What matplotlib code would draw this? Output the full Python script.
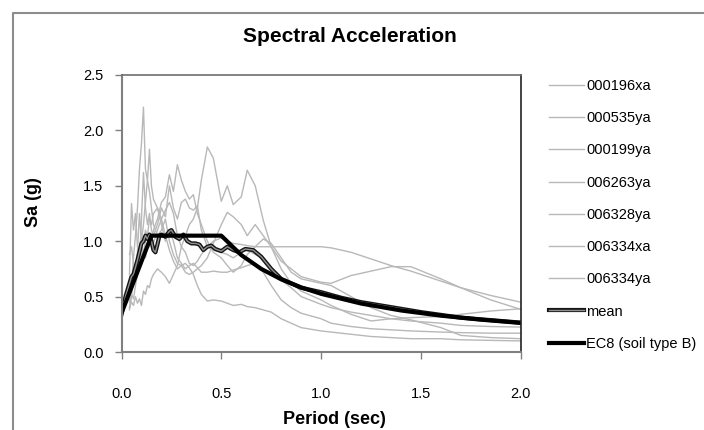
import matplotlib
matplotlib.use("Agg")
import matplotlib.pyplot as plt
import matplotlib.patheffects as pe
from matplotlib.lines import Line2D

plt.rcParams['font.family'] = ['Liberation Sans', 'DejaVu Sans']

# ---------------- data ----------------
period = [0.04, 0.05, 0.06, 0.07, 0.08, 0.09, 0.10, 0.11, 0.12, 0.13, 0.14, 0.15,
          0.16, 0.18, 0.20, 0.22, 0.24, 0.26, 0.28, 0.30, 0.32, 0.34, 0.36, 0.38,
          0.40, 0.43, 0.46, 0.50, 0.53, 0.56, 0.60, 0.63, 0.67, 0.71, 0.75, 0.80,
          0.85, 0.90, 1.00, 1.05, 1.15, 1.25, 1.35, 1.45, 1.60, 1.70, 1.85, 2.00]

rec_000196xa = [0.40, 0.45, 0.42, 0.50, 0.44, 0.48, 0.42, 0.55, 0.52, 0.60, 0.58, 0.66,
                0.70, 0.75, 0.72, 0.68, 0.62, 0.70, 0.78, 0.95, 1.05, 1.15, 1.20, 1.30,
                1.55, 1.85, 1.75, 1.36, 1.50, 1.33, 1.40, 1.64, 1.50, 1.19, 0.95, 0.75,
                0.62, 0.55, 0.47, 0.42, 0.34, 0.28, 0.30, 0.31, 0.32, 0.34, 0.37, 0.39]
rec_000535ya = [0.45, 0.60, 0.85, 1.05, 1.30, 1.65, 1.88, 2.21, 1.65, 1.55, 1.45, 1.30,
                1.15, 1.05, 1.10, 1.20, 1.00, 0.88, 0.80, 0.78, 0.80, 0.76, 0.70, 0.60,
                0.52, 0.46, 0.47, 0.46, 0.44, 0.42, 0.43, 0.41, 0.40, 0.38, 0.36, 0.30,
                0.26, 0.22, 0.19, 0.18, 0.16, 0.14, 0.13, 0.12, 0.12, 0.11, 0.105, 0.10]
rec_000199ya = [0.38, 0.50, 0.65, 0.72, 0.90, 1.25, 1.00, 1.15, 1.35, 1.55, 1.83, 1.50,
                1.38, 1.30, 1.15, 1.00, 1.10, 1.00, 0.85, 0.80, 0.75, 0.78, 0.80, 0.76,
                0.72, 0.72, 0.73, 0.72, 0.72, 0.74, 0.76, 0.78, 0.80, 0.72, 0.60, 0.47,
                0.40, 0.35, 0.30, 0.26, 0.23, 0.21, 0.20, 0.19, 0.18, 0.175, 0.17, 0.17]
rec_006263ya = [0.88, 0.95, 0.80, 0.70, 0.75, 0.85, 0.95, 0.90, 1.00, 1.05, 0.95, 1.00,
                1.10, 1.20, 1.35, 1.40, 1.60, 1.45, 1.69, 1.55, 1.45, 1.38, 1.42, 1.25,
                1.15, 1.00, 0.90, 0.85, 0.78, 0.72, 0.78, 0.88, 0.95, 1.02, 0.98, 0.85,
                0.72, 0.66, 0.62, 0.60, 0.50, 0.40, 0.33, 0.29, 0.22, 0.15, 0.13, 0.12]
rec_006328ya = [0.55, 0.65, 0.60, 0.78, 0.85, 0.95, 1.05, 0.98, 1.10, 1.05, 1.20, 1.15,
                1.25, 1.30, 1.20, 1.28, 1.35, 1.25, 1.05, 0.95, 0.90, 0.80, 0.78, 0.82,
                0.88, 0.95, 1.00, 1.03, 1.00, 0.98, 0.97, 0.96, 0.95, 0.95, 0.95, 0.95,
                0.95, 0.95, 0.95, 0.94, 0.90, 0.84, 0.78, 0.73, 0.64, 0.58, 0.51, 0.45]
rec_006334xa = [0.70, 1.34, 1.10, 1.25, 0.95, 0.80, 0.88, 0.92, 0.85, 0.95, 1.00, 1.05,
                0.98, 1.10, 1.20, 1.05, 0.92, 0.82, 0.75, 0.78, 0.72, 0.70, 0.72, 0.75,
                0.78, 0.85, 0.98, 1.15, 1.26, 1.22, 1.15, 1.05, 1.15, 1.05, 0.95, 0.82,
                0.75, 0.68, 0.63, 0.62, 0.69, 0.73, 0.77, 0.77, 0.66, 0.58, 0.47, 0.385]
rec_006334ya = [0.40, 0.52, 0.48, 0.60, 0.70, 0.78, 1.20, 1.62, 1.30, 1.15, 1.25, 1.10,
                1.05, 1.15, 1.30, 1.22, 1.50, 1.30, 1.20, 1.35, 1.38, 1.30, 1.28, 1.32,
                1.10, 0.95, 0.92, 0.90, 0.88, 0.85, 0.90, 0.92, 0.88, 0.85, 0.75, 0.65,
                0.58, 0.50, 0.43, 0.40, 0.36, 0.33, 0.30, 0.28, 0.26, 0.24, 0.23, 0.225]

records = {
    '000196xa': rec_000196xa,
    '000535ya': rec_000535ya,
    '000199ya': rec_000199ya,
    '006263ya': rec_006263ya,
    '006328ya': rec_006328ya,
    '006334xa': rec_006334xa,
    '006334ya': rec_006334ya,
}

mean_period = [0.0, 0.02, 0.04, 0.05, 0.06, 0.08, 0.10, 0.11, 0.12, 0.13, 0.14, 0.15,
               0.16, 0.17, 0.18, 0.19, 0.20, 0.22, 0.24, 0.25, 0.27, 0.29, 0.31, 0.33,
               0.35, 0.37, 0.39, 0.41, 0.43, 0.45, 0.47, 0.50, 0.53, 0.56, 0.59, 0.62,
               0.66, 0.70, 0.75, 0.80, 0.85, 0.90, 1.0, 1.1, 1.2, 1.3, 1.4, 1.5, 1.6,
               1.7, 1.8, 1.9, 2.0]
mean_sa = [0.34, 0.50, 0.62, 0.68, 0.70, 0.83, 0.98, 1.00, 1.05, 1.02, 1.06, 1.00,
           0.92, 0.90, 0.97, 1.05, 1.06, 1.04, 1.09, 1.10, 1.04, 1.02, 1.06, 1.00,
           0.98, 0.98, 0.97, 0.92, 0.95, 0.96, 0.93, 0.91, 0.95, 0.92, 0.90, 0.93,
           0.92, 0.86, 0.75, 0.66, 0.62, 0.58, 0.54, 0.49, 0.45, 0.42, 0.39, 0.36,
           0.335, 0.31, 0.295, 0.28, 0.265]

ec8_period = [0.0, 0.15, 0.5, 0.6, 0.7, 0.8, 0.9, 1.0, 1.2, 1.4, 1.6, 1.8, 2.0]
ec8_sa = [0.35, 1.05, 1.05, 0.875, 0.75, 0.656, 0.583, 0.525, 0.4375, 0.375, 0.328,
          0.292, 0.2625]

x_ticks = [0.0, 0.5, 1.0, 1.5, 2.0]
y_ticks = [0.0, 0.5, 1.0, 1.5, 2.0, 2.5]

# ---------------- figure ----------------
W, H = 704, 430
fig = plt.figure(figsize=(W / 100, H / 100), dpi=100)
fig.patch.set_facecolor('white')

# outer chart-area border (top and left visible)
fig.add_artist(Line2D([13 / W, 13 / W, 1.0], [0.0, 1 - 13 / H, 1 - 13 / H],
                      transform=fig.transFigure, color='#8c8c8c', lw=1.5))

ax_l, ax_r, ax_t, ax_b = 121.5, 520.7, 75, 352
ax = fig.add_axes([ax_l / W, 1 - ax_b / H, (ax_r - ax_l) / W, (ax_b - ax_t) / H])

gray = '#b8b8b8'
for name, vals in records.items():
    ax.plot(period, vals, color=gray, lw=1.0, label=name, solid_joinstyle='round')

ax.plot(mean_period, mean_sa, color='#909090', lw=1.0, label='mean',
        path_effects=[pe.Stroke(linewidth=3.0, foreground='#151515'), pe.Normal()])
ax.plot(ec8_period, ec8_sa, color='black', lw=3.0, label='EC8 (soil type B)',
        solid_joinstyle='round')

ax.set_xlim(0, 2.0)
ax.set_ylim(0, 2.5)
ax.set_xticks(x_ticks)
ax.set_yticks(y_ticks)
ax.set_xticklabels([f'{v:.1f}' for v in x_ticks])
ax.set_yticklabels([f'{v:.1f}' for v in y_ticks])
ax.tick_params(axis='both', direction='out', length=5, width=1, color='#808080',
               labelsize=10.5, labelcolor='black')
ax.tick_params(axis='x', pad=20)
ax.tick_params(axis='y', pad=8)
for side in ['left', 'bottom']:
    ax.spines[side].set_color('#808080')
    ax.spines[side].set_linewidth(1.5)
ax.spines['top'].set_color('#6e6e6e')
ax.spines['top'].set_linewidth(1.2)
ax.spines['right'].set_color('#222222')
ax.spines['right'].set_linewidth(1.2)

fig.text(350 / W, 1 - 36 / H, 'Spectral Acceleration', ha='center', va='center',
         fontsize=15, fontweight='bold')
fig.text(334 / W, 1 - 420 / H, 'Period (sec)', ha='center', va='center',
         fontsize=13, fontweight='bold')
fig.text(34 / W, 1 - 202 / H, 'Sa (g)', ha='center', va='center', rotation=90,
         fontsize=13, fontweight='bold')

leg = ax.legend(loc='upper left', bbox_to_anchor=(549 / W, 1 - 79 / H),
                bbox_transform=fig.transFigure, frameon=False, fontsize=10.5,
                handlelength=2.4, handletextpad=0.15, labelspacing=1.25,
                borderpad=0, borderaxespad=0)

fig.savefig('out.png', dpi=100, facecolor='white')
